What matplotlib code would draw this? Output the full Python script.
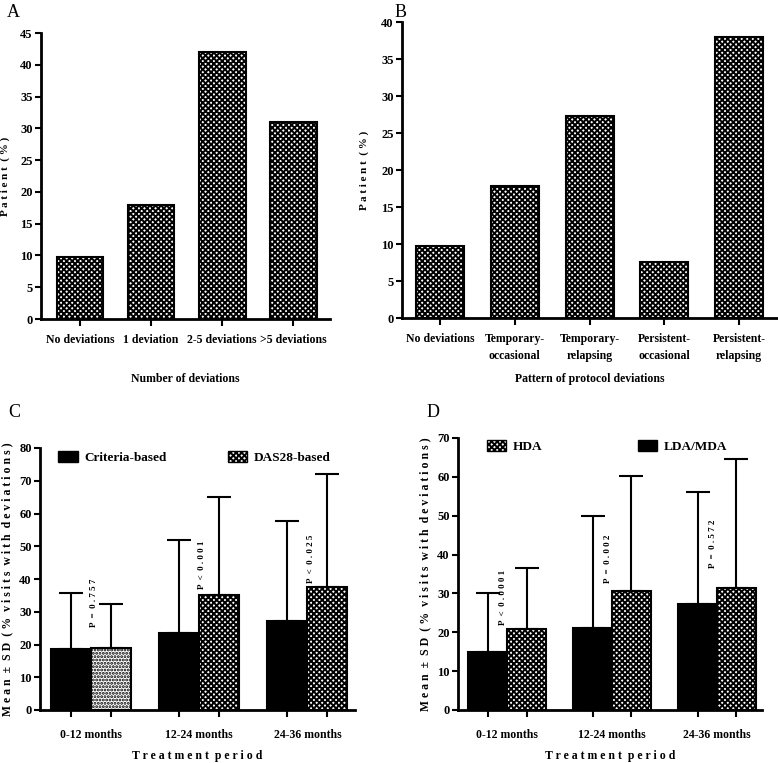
import numpy as np
import matplotlib
matplotlib.use("Agg")
import matplotlib.pyplot as plt
from matplotlib.patches import Patch

plt.rcParams['font.family'] = ['Liberation Serif', 'DejaVu Serif']
plt.rcParams['font.weight'] = 'bold'
plt.rcParams['axes.labelweight'] = 'bold'
plt.rcParams['hatch.linewidth'] = 1.4

CHECK = 'x' * 6
DOTS = '.' * 5

# panel A
a_labels = ['No deviations', '1 deviation', '2-5 deviations', '>5 deviations']
a_values = [9.8, 17.9, 42.0, 31.0]

# panel B
b_labels = ['No deviations', 'Temporary-\noccasional', 'Temporary-\nrelapsing',
            'Persistent-\noccasional', 'Persistent-\nrelapsing']
b_values = [9.7, 17.8, 27.3, 7.6, 38.0]

# panel C
periods = ['0-12 months', '12-24 months', '24-36 months']
c_crit_mean = [18.6, 23.4, 27.3]
c_crit_sd = [17.1, 28.6, 30.4]
c_das_mean = [19.0, 35.0, 37.5]
c_das_sd = [13.3, 30.0, 34.7]
c_pvals = ['P = 0.757', 'P < 0.001', 'P < 0.025']
c_pos = [25.3, 37.0, 38.7]

# panel D
d_low_mean = [15.0, 21.0, 27.2]
d_low_sd = [15.2, 29.0, 29.0]
d_hda_mean = [20.9, 30.6, 31.5]
d_hda_sd = [15.6, 29.6, 33.2]
d_pvals = ['P < 0.0001', 'P = 0.002', 'P = 0.572']
d_pos = [21.9, 32.7, 36.5]

W, H = 778, 763
fig = plt.figure(figsize=(W / 100, H / 100), dpi=100)


def px_axes(x0, x1, ytop, ybot):
    return fig.add_axes([x0 / W, 1 - ybot / H, (x1 - x0) / W, (ybot - ytop) / H])


def spaced(s):
    return ' '.join(s.replace(' ', ''))


def style(ax):
    for s in ['top', 'right']:
        ax.spines[s].set_visible(False)
    for s in ['left', 'bottom']:
        ax.spines[s].set_linewidth(2)
    ax.tick_params(axis='both', direction='out', width=1.5, length=4, labelsize=9, pad=2)
    ax.tick_params(axis='x', length=5, pad=6, labelsize=8.5)


# ---- A
ax = px_axes(41, 330, 33, 319)
x = np.arange(len(a_values))
ax.bar(x, a_values, width=0.66, color='white', edgecolor='black', linewidth=1.5, hatch=CHECK)
ax.set_xlim(-0.55, 3.52)
ax.set_ylim(0, 45)
ax.set_yticks(range(0, 46, 5))
ax.set_xticks(x)
ax.set_xticklabels(a_labels)
ax.set_ylabel('P a t i e n t  ( % )', fontsize=8, labelpad=7)
ax.set_xlabel('Number of deviations', fontsize=8.5, labelpad=19)
style(ax)
fig.text(7 / W, 1 - 17 / H, 'A', fontsize=13, fontweight='normal')

# ---- B
ax = px_axes(402, 778, 22, 318)
x = np.arange(len(b_values))
ax.bar(x, b_values, width=0.64, color='white', edgecolor='black', linewidth=1.5, hatch=CHECK)
ax.set_xlim(-0.51, 4.52)
ax.set_ylim(0, 40)
ax.set_yticks(range(0, 41, 5))
ax.set_xticks(x)
ax.set_xticklabels(b_labels, linespacing=1.5)
for t in ax.get_xticklabels():
    t.set_verticalalignment('top')
ax.set_ylabel('P a t i e n t  ( % )', fontsize=8, labelpad=9)
ax.set_xlabel('Pattern of protocol deviations', fontsize=8.5, labelpad=8)
style(ax)
fig.text(395 / W, 1 - 17 / H, 'B', fontsize=13, fontweight='normal')


def grouped(ax, m1, s1, m2, s2, first_hatch):
    g = np.arange(len(m1))
    w = 0.37
    ax.bar(g - w / 2, m1, width=w, color='black', edgecolor='black', linewidth=1.5)
    hat = [first_hatch] + [CHECK] * (len(m2) - 1)
    for i in range(len(m2)):
        ax.bar(g[i] + w / 2, m2[i], width=w, color='white', edgecolor='black',
               linewidth=1.5, hatch=hat[i])
    ax.errorbar(g - w / 2, m1, yerr=[np.zeros(len(m1)), s1], fmt='none', ecolor='black',
                elinewidth=1.5, capsize=8.5, capthick=1.5)
    ax.errorbar(g + w / 2, m2, yerr=[np.zeros(len(m2)), s2], fmt='none', ecolor='black',
                elinewidth=1.5, capsize=8.5, capthick=1.5)
    ax.set_xticks(np.concatenate([g - w / 2, g + w / 2]), minor=True)
    ax.set_xticks(g)
    ax.set_xticklabels(periods)
    return g, w


def finish(ax):
    style(ax)
    ax.tick_params(axis='x', which='minor', direction='out', width=1.5, length=5)
    ax.tick_params(axis='x', which='major', length=0, pad=14)
    ax.set_ylabel('M e a n  ±  S D  ( %  v i s i t s  w i t h  d e v i a t i o n s )',
                  fontsize=8.5, labelpad=4)
    ax.set_xlabel('T r e a t m e n t  p e r i o d', fontsize=8.5, labelpad=6)


# ---- C
ax = px_axes(40, 355, 448, 710)
g, w = grouped(ax, c_crit_mean, c_crit_sd, c_das_mean, c_das_sd, DOTS)
ax.set_xlim(-0.47, 2.44)
ax.set_ylim(0, 80)
ax.set_yticks(range(0, 81, 10))
for i in range(len(g)):
    ax.text(g[i] + 0.03, c_pos[i], spaced(c_pvals[i]).replace(' = ', '  =  ').replace(' < ', '  <  '),
            rotation=90, fontsize=6.5, ha='center', va='bottom')
finish(ax)
handles = [Patch(facecolor='black', edgecolor='black'),
           Patch(facecolor='white', edgecolor='black', hatch=CHECK)]
ax.legend(handles, ['Criteria-based', 'DAS28-based'], ncol=2, frameon=False,
          loc='upper left', bbox_to_anchor=(0.02, 1.035), fontsize=9.5,
          handlelength=1.5, handleheight=0.9, columnspacing=4.6, handletextpad=0.5)
fig.text(8 / W, 1 - 417 / H, 'C', fontsize=13, fontweight='normal')

# ---- D
ax = px_axes(458, 762, 438, 710)
g, w = grouped(ax, d_low_mean, d_low_sd, d_hda_mean, d_hda_sd, CHECK)
ax.set_xlim(-0.47, 2.43)
ax.set_ylim(0, 70)
ax.set_yticks(range(0, 71, 10))
for i in range(len(g)):
    ax.text(g[i] - 0.04, d_pos[i], spaced(d_pvals[i]).replace(' = ', '  =  ').replace(' < ', '  <  '),
            rotation=90, fontsize=6.5, ha='center', va='bottom')
finish(ax)
handles = [Patch(facecolor='white', edgecolor='black', hatch=CHECK),
           Patch(facecolor='black', edgecolor='black')]
ax.legend(handles, ['HDA', 'LDA/MDA'], ncol=2, frameon=False,
          loc='upper left', bbox_to_anchor=(0.055, 1.035), fontsize=9.5,
          handlelength=1.5, handleheight=0.9, columnspacing=7.2, handletextpad=0.5)
fig.text(427 / W, 1 - 417 / H, 'D', fontsize=13, fontweight='normal')

fig.savefig('out.png', dpi=100)
